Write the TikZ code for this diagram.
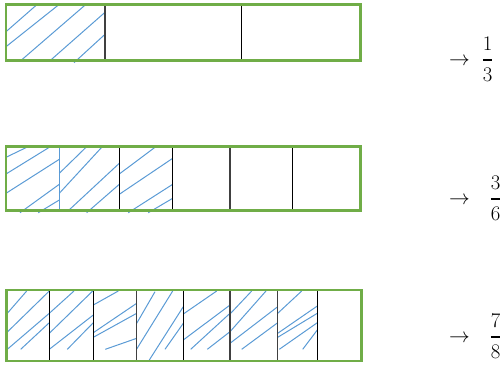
\documentclass[tikz,border=0pt]{standalone}
\usepackage{amsmath}
\definecolor{boxgreen}{HTML}{70AD47}
\definecolor{hatchblue}{HTML}{5B9BD5}
\definecolor{divgray}{HTML}{404040}
\tikzset{
  hatch/.style={hatchblue, line width=1pt},
  divline/.style={black, line width=1.1pt},
  divthick/.style={divgray, line width=1.5pt},
  outerbox/.style={boxgreen, line width=2.6pt},
  fractext/.style={inner sep=0pt, font=\fontsize{20}{24}\selectfont},
}
\begin{document}
\begin{tikzpicture}[x=1pt,y=-1pt]
\useasboundingbox (0,0) rectangle (500,368);
% ---------- Row 1 ----------
\draw[hatch] (6,31.7) -- (37.3,4.3);
\draw[hatch] (6,46.7) -- (59.3,4.3);
\draw[hatch] (20.7,60.7) -- (86,4.3);
\draw[hatch] (50,60.7) -- (105,12.3);
\draw[hatch] (74,62.7) -- (105,34.3);
\draw[divthick] (105,4.3) -- (105,60.7);
\draw[divline] (241.7,4.3) -- (241.7,60.7);
\draw[outerbox] (6,4.3) rectangle (360.7,60.7);
% ---------- Row 2 ----------
\draw[hatch] (6,157.3) -- (26.7,147.3);
\draw[hatch] (6,174) -- (49.3,147.3);
\draw[hatch] (6,193.3) -- (59.3,159.3);
\draw[hatch] (20,212.7) -- (59.3,184.3);
\draw[hatch] (38.3,212.7) -- (59.3,200);
\draw[hatch] (59.3,173.3) -- (86,147.3);
\draw[hatch] (59.3,193.3) -- (101.7,147.3);
\draw[hatch] (68.3,210.7) -- (119.3,163.3);
\draw[hatch] (86.7,212.7) -- (119.3,184.3);
\draw[hatch] (119.3,174) -- (155,147.3);
\draw[hatch] (119.3,194.3) -- (172.7,158.3);
\draw[hatch] (128.3,212.7) -- (172.7,184.3);
\draw[hatch] (148.3,212.7) -- (172.7,198.3);
\draw[hatchblue, line width=1.1pt] (59.3,146.7) -- (59.3,210.7);
\draw[divline] (119.3,146.7) -- (119.3,210.7);
\draw[divline] (172.7,146.7) -- (172.7,210.7);
\draw[divthick] (230,146.7) -- (230,210.7);
\draw[divline] (292.7,146.7) -- (292.7,210.7);
\draw[outerbox] (6,146.7) rectangle (360.7,210.7);
% ---------- Row 3 ----------
\draw[hatch] (7.3,313.3) -- (26.7,291);
\draw[hatch] (6,333.3) -- (49.3,291);
\draw[hatch] (7.3,349.3) -- (49.3,313.3);
\draw[hatch] (20.7,349.3) -- (49.3,322.7);
\draw[hatch] (49.3,313.3) -- (74,291);
\draw[hatch] (49.3,333.3) -- (92.7,291);
\draw[hatch] (49.3,349.3) -- (93.3,315);
\draw[hatch] (67.3,349.3) -- (93.3,322.7);
\draw[hatch] (93.3,305) -- (118.3,291);
\draw[hatch] (93.3,332.7) -- (136.7,303.3);
\draw[hatch] (93.3,337.3) -- (136.7,313.3);
\draw[hatch] (105.3,349.3) -- (136.7,338.3);
\draw[hatch] (136.7,323.3) -- (155,291.7);
\draw[hatch] (136.7,349) -- (172.7,291);
\draw[hatch] (149.3,360) -- (183.3,306.7);
\draw[hatch] (165,349.3) -- (183.3,323.3);
\draw[hatch] (183.3,314) -- (216.7,291);
\draw[hatch] (183.3,340) -- (230,305);
\draw[hatch] (190.7,349.3) -- (230,313.3);
\draw[hatch] (207.3,349.3) -- (230,331.7);
\draw[hatch] (230,314) -- (251.7,291);
\draw[hatch] (230,331.7) -- (266,291);
\draw[hatch] (230,343.3) -- (277.7,306.7);
\draw[hatch] (241.7,349.3) -- (277.7,322.7);
\draw[hatch] (277.7,313.3) -- (301.7,291);
\draw[hatch] (277.7,333.3) -- (317.3,306);
\draw[hatch] (277.7,337.3) -- (317.3,313.3);
\draw[hatch] (279.3,349.3) -- (317.3,322.7);
\draw[hatch] (302.7,349.3) -- (317.3,330);
\draw[divline] (49.3,290) -- (49.3,361);
\draw[divline] (93.3,290) -- (93.3,361);
\draw[divthick] (136.7,290) -- (136.7,361);
\draw[divline] (183.3,290) -- (183.3,361);
\draw[divthick] (230,290) -- (230,361);
\draw[divthick] (277.7,290) -- (277.7,361);
\draw[divline] (317.3,290) -- (317.3,361);
\draw[outerbox] (6.7,290) rectangle (361.7,361);
% ---------- Labels ----------
\node[fractext, anchor=base west] (arr1) at (449,65) {$\rightarrow$};
\node[fractext, anchor=base west] (frac1) at (481.5,65) {$\genfrac{}{}{2.4pt}{0}{1}{3}$};
\node[fractext, anchor=base west] (arr2) at (449,204) {$\rightarrow$};
\node[fractext, anchor=base west] (frac2) at (489.5,204) {$\genfrac{}{}{2.4pt}{0}{3}{6}$};
\node[fractext, anchor=base west] (arr3) at (449,342) {$\rightarrow$};
\node[fractext, anchor=base west] (frac3) at (489.5,342) {$\genfrac{}{}{2.4pt}{0}{7}{8}$};
\end{tikzpicture}
\end{document}
